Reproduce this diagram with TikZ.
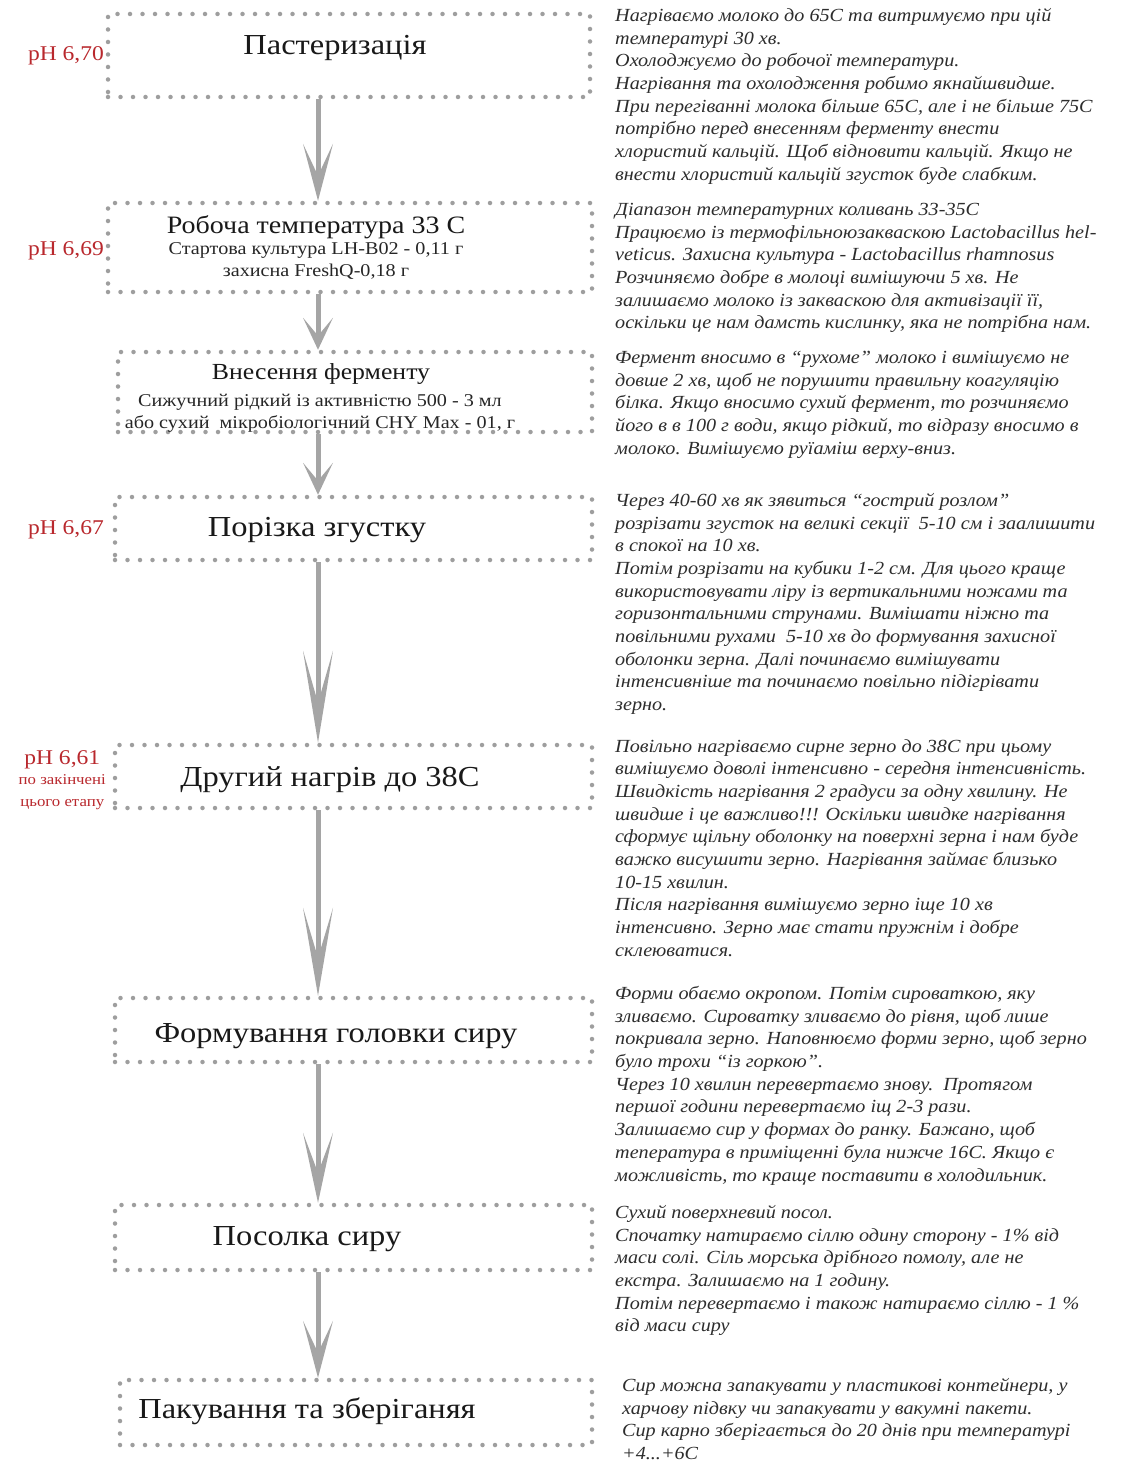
\documentclass[tikz,border=0pt]{standalone}
\usepackage{fontspec}
\setmainfont{Liberation Serif}[FakeStretch=1.12]
\newfontfamily\notefont{Liberation Serif}[FakeStretch=1.09]
\usetikzlibrary{arrows.meta}

\definecolor{dotgray}{RGB}{158,158,158}
\definecolor{arrowgray}{RGB}{165,165,165}
\definecolor{phred}{RGB}{185,40,45}
\definecolor{notegray}{RGB}{45,45,45}

\tikzset{
  stepbox/.style={draw=dotgray, line width=4.5pt, line cap=round,
    dash pattern=on 0pt off 12.5pt, inner sep=0pt},
  title/.style={inner sep=0pt, text=black!90, font=\fontsize{#1}{#1}\selectfont},
  subtitle/.style={inner sep=0pt, align=center, text=black!85,
    font=\fontsize{18}{22}\selectfont},
  phlabel/.style={inner sep=0pt, anchor=east, align=center, text=phred,
    font=\fontsize{21}{22}\selectfont},
  note/.style={inner sep=0pt, anchor=north west, align=left, text=notegray,
    font=\notefont\itshape\fontsize{18.5}{22.7}\selectfont,
    execute at begin node=\strut},
  flow/.style 2 args={line width=5pt, draw=arrowgray,
    -{Stealth[length=#1, width=30pt, inset=#2, line width=0pt]}}
}

\begin{document}
\begin{tikzpicture}[x=1pt, y=-1pt]
  \useasboundingbox (0,0) rectangle (1132,1461);
  \fill[white] (0,0) rectangle (1132,1461);
  \coordinate (axis) at (318,0);

  % Process steps
  \node[stepbox, minimum width=482pt, minimum height=83pt] (past) at (349,55.5) {};
  \node[stepbox, minimum width=484pt, minimum height=89pt] (work) at (350,247.5) {};
  \node[stepbox, minimum width=474pt, minimum height=80pt] (enz) at (355,392) {};
  \node[stepbox, minimum width=477pt, minimum height=63pt] (cut) at (353.5,528.5) {};
  \node[stepbox, minimum width=477pt, minimum height=63pt] (heat) at (353.5,776.5) {};
  \node[stepbox, minimum width=477pt, minimum height=64pt] (form) at (353.5,1030) {};
  \node[stepbox, minimum width=477pt, minimum height=65pt] (salt) at (353.5,1237.5) {};
  \node[stepbox, minimum width=472pt, minimum height=65pt] (pack) at (356,1412.5) {};

  % Step titles
  \node[title=29] (pasttitle) at (335,48) {Пастеризація};
  \node[title=25] (worktitle) at (316,227) {Робоча температура 33 С};
  \node[subtitle] (worksub) at (316,261) {Стартова культура LH-B02 - 0,11 г\\захисна FreshQ-0,18 г};
  \node[title=23] (enztitle) at (321,374) {Внесення ферменту};
  \node[subtitle] (enzsub) at (320,413) {Сижучний рідкий із активністю 500 - 3 мл\\або сухий\ \ мікробіологічний CHY Max - 01, г};
  \node[title=29] (cuttitle) at (317,530) {Порізка згустку};
  \node[title=29] (heattitle) at (330,780) {Другий нагрів до 38С};
  \node[title=29] (formtitle) at (336,1036) {Формування головки сиру};
  \node[title=29] (salttitle) at (307,1239) {Посолка сиру};
  \node[title=29] (packtitle) at (307,1411) {Пакування та зберіганяя};

  % pH values
  \node[phlabel] (phpast) at (104,56) {pH 6,70};
  \node[phlabel] (phwork) at (104,251) {pH 6,69};
  \node[phlabel] (phcut) at (104,530) {pH 6,67};
  \node[phlabel] (phheat) at (106,780) {pH 6,61\\[-2pt]{\fontsize{15}{19}\selectfont по закінчені}\\{\fontsize{15}{19}\selectfont цього етапу}};

  % Arrows between steps
  \draw[flow={57pt}{32pt}] (past.south -| axis) -- (work.north -| axis);
  \draw[flow={32pt}{18pt}] (work.south -| axis) -- (enz.north -| axis);
  \draw[flow={32pt}{18pt}] (enz.south -| axis) -- (cut.north -| axis);
  \draw[flow={92pt}{52pt}] (cut.south -| axis) -- (heat.north -| axis);
  \draw[flow={88pt}{50pt}] (heat.south -| axis) -- (form.north -| axis);
  \draw[flow={70pt}{40pt}] (form.south -| axis) -- (salt.north -| axis);
  \draw[flow={57pt}{32pt}] (salt.south -| axis) -- (pack.north -| axis);

  % Notes
  \node[note] (pastnote) at (615,8) {Нагріваємо молоко до 65С та витримуємо при цій\\
    температурі 30 хв.\\
    Охолоджуємо до робочої температури.\\
    Нагрівання та охолодження робимо якнайшвидше.\\
    При перегіванні молока більше 65С, але і не більше 75С\\
    потрібно перед внесенням ферменту внести\\
    хлористий кальцій. Щоб відновити кальцій. Якщо не\\
    внести хлористий кальцій згусток буде слабким.};
  \node[note] (worknote) at (615,203) {Діапазон температурних коливань 33-35С\\
    Працюємо із термофільноюзакваскою Lactobacillus hel-\\
    veticus. Захисна культура - Lactobacillus rhamnosus\\
    Розчиняємо добре в молоці вимішуючи 5 хв. Не\\
    залишаємо молоко із закваскою для активізації її,\\
    оскільки це нам дамсть кислинку, яка не потрібна нам.};
  \node[note] (enznote) at (615,351) {Фермент вносимо в “рухоме” молоко і вимішуємо не\\
    довше 2 хв, щоб не порушити правильну коагуляцію\\
    білка. Якщо вносимо сухий фермент, то розчиняємо\\
    його в в 100 г води, якщо рідкий, то відразу вносимо в\\
    молоко. Вимішуємо руїаміш верху-вниз.};
  \node[note] (cutnote) at (615,493) {Через 40-60 хв як зявиться “гострий розлом”\\
    розрізати згусток на великі секції\ \ 5-10 см і заалишити\\
    в спокої на 10 хв.\\
    Потім розрізати на кубики 1-2 см. Для цього краще\\
    використовувати ліру із вертикальними ножами та\\
    горизонтальними струнами. Вимішати ніжно та\\
    повільними рухами\ \ 5-10 хв до формування захисної\\
    оболонки зерна. Далі починаємо вимішувати\\
    інтенсивніше та починаємо повільно підігрівати\\
    зерно.};
  \node[note] (heatnote) at (615,739) {Повільно нагріваємо сирне зерно до 38С при цьому\\
    вимішуємо доволі інтенсивно - середня інтенсивність.\\
    Швидкість нагрівання 2 градуси за одну хвилину. Не\\
    швидше і це важливо!!! Оскільки швидке нагрівання\\
    сформує щільну оболонку на поверхні зерна і нам буде\\
    важко висушити зерно. Нагрівання займає близько\\
    10-15 хвилин.\\
    Після нагрівання вимішуємо зерно іще 10 хв\\
    інтенсивно. Зерно має стати пружнім і добре\\
    склеюватися.};
  \node[note] (formnote) at (615,986) {Форми обаємо окропом. Потім сироваткою, яку\\
    зливаємо. Сироватку зливаємо до рівня, щоб лише\\
    покривала зерно. Наповнюємо форми зерно, щоб зерно\\
    було трохи “із горкою”.\\
    Через 10 хвилин перевертаємо знову.\ \ Протягом\\
    першої години перевертаємо іщ 2-3 рази.\\
    Залишаємо сир у формах до ранку. Бажано, щоб\\
    тепература в приміщенні була нижче 16С. Якщо є\\
    можливість, то краще поставити в холодильник.};
  \node[note] (saltnote) at (615,1205) {Сухий поверхневий посол.\\
    Спочатку натираємо сіллю одину сторону - 1\% від\\
    маси солі. Сіль морська дрібного помолу, але не\\
    екстра. Залишаємо на 1 годину.\\
    Потім перевертаємо і також натираємо сіллю - 1 \%\\
    від маси сиру};
  \node[note] (packnote) at (622,1378) {Сир можна запакувати у пластикові контейнери, у\\
    харчову підвку чи запакувати у вакумні пакети.\\
    Сир карно зберігається до 20 днів при температурі\\
    +4...+6С};
\end{tikzpicture}
\end{document}
